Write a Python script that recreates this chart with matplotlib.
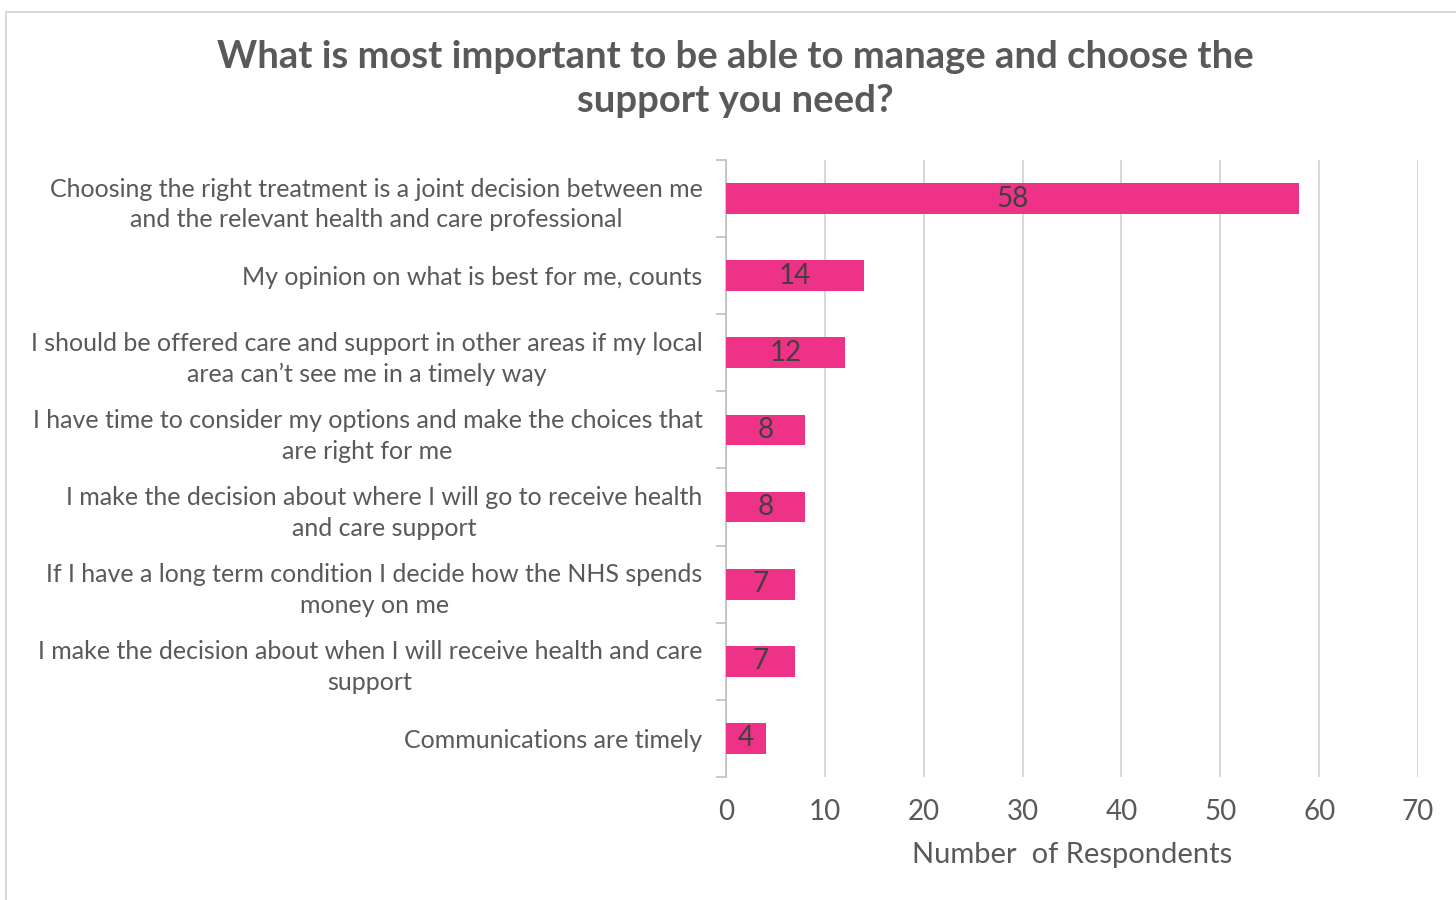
import matplotlib.pyplot as plt
from matplotlib.patches import Rectangle
from matplotlib.ticker import FixedLocator

statements = [
    "Choosing the right treatment is a joint decision between me\nand the relevant health and care professional",
    "My opinion on what is best for me, counts",
    "I should be offered care and support in other areas if my local\narea can\u2019t see me in a timely way",
    "I have time to consider my options and make the choices that\nare right for me",
    "I make the decision about where I will go to receive health\nand care support",
    "If I have a long term condition I decide how the NHS spends\nmoney on me",
    "I make the decision about when I will receive health and care\nsupport",
    "Communications are timely",
]
respondents = [58, 14, 12, 8, 8, 7, 7, 4]
xticks = [0, 10, 20, 30, 40, 50, 60, 70]

plt.rcParams['font.family'] = ['Lato', 'DejaVu Sans']
grey = "#595959"
pink = "#EE3288"

fig = plt.figure(figsize=(14.56, 9), dpi=100)
ax = fig.add_axes([726 / 1456, 1 - 777 / 900, (1418 - 726) / 1456, (777 - 160) / 900])

# outer chart frame
fig.patches.append(Rectangle((6 / 1456, -0.02), 1.1, 1 - 12 / 900 + 0.02,
                             transform=fig.transFigure, fill=False,
                             edgecolor="#d9d9d9", linewidth=1.5))

ypos = list(range(len(statements)))
bars = ax.barh(ypos, respondents, height=0.4, color=pink, zorder=3)
ax.bar_label(bars, label_type="center", fontsize=20, color="#404040")

ax.set_xlim(0, 70)
ax.set_ylim(len(statements) - 0.5, -0.5)
ax.set_xticks(xticks)
ax.set_yticks(ypos)
ax.set_yticklabels(statements, fontsize=18, color=grey)
for lbl in ax.get_yticklabels():
    lbl.set_multialignment("center")
    lbl.set_linespacing(1.4)
ax.yaxis.set_minor_locator(FixedLocator([i - 0.5 for i in range(len(statements) + 1)]))
ax.tick_params(axis="y", which="major", length=0, pad=17)
ax.tick_params(axis="y", which="minor", length=7, color="#bfbfbf", width=1.2)
ax.tick_params(axis="x", length=0, labelsize=20, labelcolor=grey, pad=16)

ax.grid(axis="x", color="#d9d9d9", linewidth=1.5, zorder=0)
for s in ["top", "right", "bottom"]:
    ax.spines[s].set_visible(False)
ax.spines["left"].set_color("#bfbfbf")
ax.spines["left"].set_linewidth(1.2)

ax.set_xlabel("Number  of Respondents", fontsize=21, color=grey, labelpad=12)

fig.text(735 / 1456, 1 - 57 / 900, "What is most important to be able to manage and choose the",
         ha="center", va="center", fontsize=27.5, fontweight="bold", color=grey)
fig.text(735 / 1456, 1 - 101 / 900, "support you need?",
         ha="center", va="center", fontsize=27.5, fontweight="bold", color=grey)

fig.savefig("out.png", dpi=100)
